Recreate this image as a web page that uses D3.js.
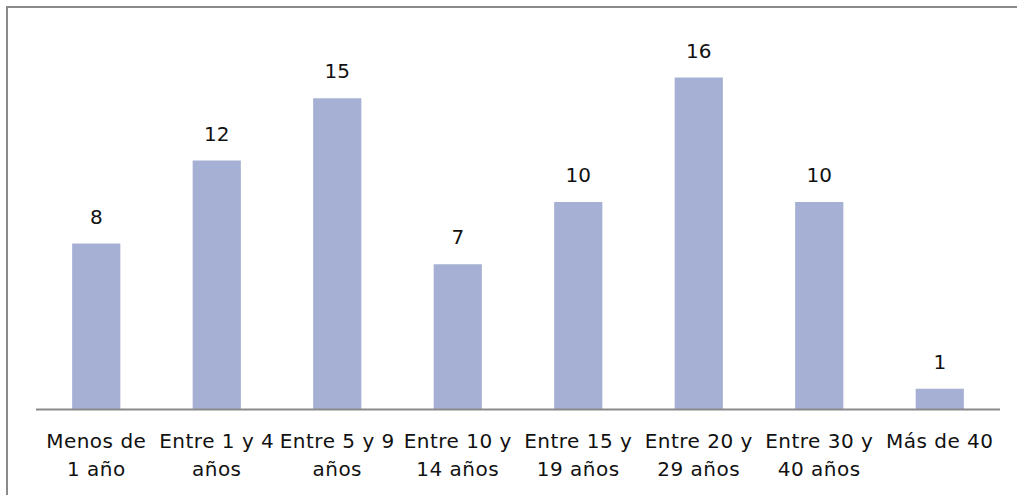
<!DOCTYPE html>
<html>
<head>
<meta charset="utf-8">
<script src="https://cdn.jsdelivr.net/npm/d3@7"></script>
<style>
  html, body { margin: 0; padding: 0; background: #fff; }
  svg { display: block; }
</style>
</head>
<body>
<svg id="chart" width="1017" height="495"></svg>
<script>
// Antigüedad: number of cases per range of years
const categories = [
  "Menos de\n1 año",
  "Entre 1 y 4\naños",
  "Entre 5 y 9\naños",
  "Entre 10 y\n14 años",
  "Entre 15 y\n19 años",
  "Entre 20 y\n29 años",
  "Entre 30 y\n40 años",
  "Más de 40"
];
const values = [8, 12, 15, 7, 10, 16, 10, 1];

const W = 1017, H = 495;
const plot = { left: 36, right: 1000, top: 36, bottom: 409.5 };
const font = "'DejaVu Sans', sans-serif";

const svg = d3.select("#chart");

// outer frame
svg.append("rect")
  .attr("x", 7).attr("y", 7)
  .attr("width", W + 10).attr("height", H + 10)
  .attr("fill", "none")
  .attr("stroke", "#8a8a8a")
  .attr("stroke-width", 2);

const x = d3.scaleBand()
  .domain(categories)
  .range([plot.left, plot.right])
  .paddingInner(0.6)
  .paddingOuter(0.3);

const y = d3.scaleLinear()
  .domain([0, 18])
  .range([plot.bottom, plot.top]);

// bars
svg.append("g").selectAll("rect")
  .data(values)
  .join("rect")
  .attr("x", (d, i) => x(categories[i]))
  .attr("y", d => y(d))
  .attr("width", x.bandwidth())
  .attr("height", d => y(0) - y(d))
  .attr("fill", "#a6b0d4");

// value labels
svg.append("g").selectAll("text")
  .data(values)
  .join("text")
  .attr("x", (d, i) => x(categories[i]) + x.bandwidth() / 2)
  .attr("y", d => y(d) - 20)
  .attr("text-anchor", "middle")
  .attr("font-family", font)
  .attr("font-size", 20)
  .attr("fill", "#111")
  .text(d => d);

// category axis
const axis = svg.append("g")
  .attr("transform", `translate(0,${plot.bottom})`)
  .call(d3.axisBottom(x).tickSize(0).tickFormat(""));
axis.select(".domain")
  .attr("stroke", "#8a8a8a")
  .attr("stroke-width", 2)
  .attr("d", `M${plot.left},0H${plot.right}`);

axis.selectAll(".tick").each(function(d) {
  const t = d3.select(this).append("text")
    .attr("text-anchor", "middle")
    .attr("font-family", font)
    .attr("font-size", 20)
    .attr("letter-spacing", 0.5)
    .attr("fill", "#111");
  d.split("\n").forEach((line, k) => {
    t.append("tspan")
      .attr("x", 0)
      .attr("y", 38 + k * 28)
      .text(line);
  });
});
</script>
</body>
</html>
